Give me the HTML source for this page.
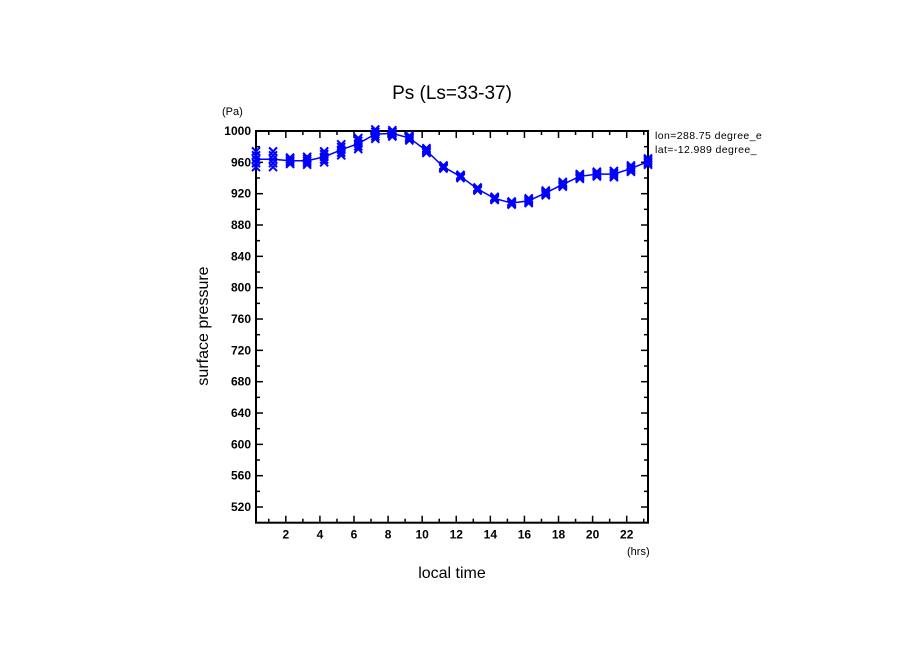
<!DOCTYPE html>
<html><head><meta charset="utf-8"><style>
body{margin:0;background:#fff;}
svg text{font-family:"Liberation Sans","DejaVu Sans",sans-serif;}
</style></head><body>
<svg width="904" height="654" xmlns="http://www.w3.org/2000/svg">
<g id="axes"></g>
<g id="series"></g>
<text x="452" y="99" font-size="19" text-anchor="middle">Ps (Ls=33-37)</text>
<text x="222" y="115" font-size="11">(Pa)</text>
<text x="627" y="555" font-size="11">(hrs)</text>
<text x="452" y="578" font-size="16" text-anchor="middle">local time</text>
<text transform="translate(208,326) rotate(-90)" font-size="16" text-anchor="middle">surface pressure</text>
<text x="655" y="139" font-size="10.5" letter-spacing="0.4">lon=288.75 degree_e</text>
<text x="655" y="153" font-size="10.5" letter-spacing="0.4">lat=-12.989 degree_</text>
<rect x="781" y="125" width="123" height="40" fill="#fff"/>
</svg>
<script>
const hours=[0.25,1.25,2.25,3.25,4.25,5.25,6.25,7.25,8.25,9.25,10.25,11.25,12.25,13.25,14.25,15.25,16.25,17.25,18.25,19.25,20.25,21.25,22.25,23.25];
const ps=[964,964,962,962,967,976,984,996,997,991,975,954,942,926,914,908,911,921,932,942,945,945,952,961];
const spread=[10,10,4,5,7,7,7,6,4,3,3,2,2,2,2,2,3,3,3,3,3,4,4,4];
const yTicks=[520,560,600,640,680,720,760,800,840,880,920,960,1000];
const xTicks=[2,4,6,8,10,12,14,16,18,20,22];
const L=256,R=648,T=131,B=522.7,X0=0.25,X1=23.25,Y0=500,Y1=1000;
const sx=v=>L+(v-X0)/(X1-X0)*(R-L);
const sy=v=>B-(v-Y0)/(Y1-Y0)*(B-T);
const NS='http://www.w3.org/2000/svg';
const ax=document.getElementById('axes'),se=document.getElementById('series');
function mk(tag,at,p){const e=document.createElementNS(NS,tag);for(const k in at)e.setAttribute(k,at[k]);p.appendChild(e);return e;}
const fr=mk('rect',{x:L,y:T,width:R-L,height:B-T,fill:'none',stroke:'#000','stroke-width':2},ax);


for(let v=500;v<=1000;v+=20){const y=sy(v);const len=(v%40===0)?7:4;
mk('line',{x1:L,x2:L+len,y1:y,y2:y,stroke:'#000','stroke-width':1.5},ax);
mk('line',{x1:R,x2:R-len,y1:y,y2:y,stroke:'#000','stroke-width':1.5},ax);}
yTicks.forEach(v=>{const t=mk('text',{x:L-5,y:sy(v)+4,'font-size':12,'text-anchor':'end','font-weight':'bold'},ax);t.textContent=v;

});
for(let h=1;h<=23;h++){const x=sx(h);const len=(h%2===0)?7:4;
mk('line',{x1:x,x2:x,y1:B,y2:B-len,stroke:'#000','stroke-width':1.5},ax);
mk('line',{x1:x,x2:x,y1:T,y2:T+len,stroke:'#000','stroke-width':1.5},ax);}
xTicks.forEach(v=>{const t=mk('text',{x:sx(v),y:B+16,'font-size':12,'text-anchor':'middle','font-weight':'bold'},ax);t.textContent=v;

});
const ln=mk('polyline',{points:hours.map((h,i)=>sx(h)+','+sy(ps[i])).join(' '),fill:'none',stroke:'#0000ff','stroke-width':1.5},se);


hours.forEach((h,i)=>{[-1,-0.5,0,0.5,1].forEach(f=>{const x=sx(h),y=sy(ps[i]+f*spread[i]),s=4;
const g=mk('path',{d:`M${x-s},${y-s}L${x+s},${y+s}M${x-s},${y+s}L${x+s},${y-s}`,stroke:'#0000ff','stroke-width':2,fill:'none'},se);

});});
</script>
</body></html>
